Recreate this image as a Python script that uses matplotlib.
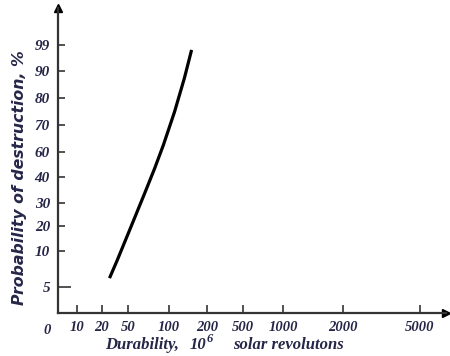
import numpy as np
import matplotlib
matplotlib.use("Agg")
import matplotlib.pyplot as plt
from matplotlib import transforms

# ---- data ----
durability = [28.8, 37.5, 53.3, 70.1, 82.4, 93.1, 114.6, 140, 159]   # 10^6 solar revolutions
probability = [6.2, 8.7, 19.7, 33.7, 47.0, 62.5, 75.0, 87.3, 97.3]   # %

x_ticks = [10, 20, 50, 100, 200, 500, 1000, 2000, 5000]
x_tick_labels = ["10", "20", "50", "100", "200", "500", "1000", "2000", "5000"]
y_ticks = [5, 10, 20, 30, 40, 60, 70, 80, 90, 99]
y_tick_labels = ["5", "10", "20", "30", "40", "60", "70", "80", "90", "99"]

# ---- layout of the (non-uniform) paper scales, in figure pixels ----
W, H = 450, 356
XV = [0, 4, 10, 20, 50, 100, 200, 500, 1000, 2000, 5000, 6000]
XPIX = [46.7, 58.3, 76.7, 101.7, 128.3, 169, 207.3, 243.3, 283.3, 343.3, 420, 446]
YV = [0, 5, 10, 20, 30, 40, 60, 70, 80, 90, 99, 100]
YPIX = [312.5, 286.7, 251, 226, 202.7, 177.3, 151.7, 125, 98.3, 71, 45, 8]
YNEG = [-p for p in YPIX]

def xf(v):
    return np.interp(v, XV, XPIX)
def xi(p):
    return np.interp(p, XPIX, XV)
def yf(v):
    return np.interp(v, YV, YNEG)
def yi(p):
    return np.interp(p, YNEG, YV)

fig = plt.figure(figsize=(W / 100, H / 100), dpi=100)
left, right, top, bottom = 58.3, 446, 8, 312.5
ax = fig.add_axes([left / W, 1 - bottom / H, (right - left) / W, (bottom - top) / H])
ax.set_xscale('function', functions=(xf, xi))
ax.set_yscale('function', functions=(yf, yi))
ax.set_xlim(4, 6000)
ax.set_ylim(0, 100)

axis_col = '#333333'
txt_col = '#262648'
for s in ['top', 'right']:
    ax.spines[s].set_visible(False)
for s in ['left', 'bottom']:
    ax.spines[s].set_color(axis_col)
    ax.spines[s].set_linewidth(1.6)

ax.plot(durability, probability, color='black', lw=2.3, solid_capstyle='butt',
        solid_joinstyle='round')

ax.set_xticks(x_ticks)
ax.set_xticklabels(x_tick_labels)
ax.set_yticks(y_ticks)
ax.set_yticklabels(y_tick_labels)
ax.minorticks_off()
ax.tick_params(axis='x', direction='in', length=6, width=1.2, color=axis_col, pad=6)
ax.tick_params(axis='y', direction='in', length=5, width=1.2, color=axis_col, pad=6)
ax.yaxis.get_major_ticks()[0].tick1line.set_markersize(9)
for lab in ax.get_xticklabels():
    lab.set_family('Liberation Serif')
    lab.set_weight('bold')
    lab.set_style('italic')
    lab.set_fontsize(10.5)
    lab.set_color(txt_col)
for lab in ax.get_yticklabels():
    lab.set_family('Liberation Serif')
    lab.set_weight('bold')
    lab.set_style('italic')
    lab.set_fontsize(11)
    lab.set_color(txt_col)

# zero label left of the vertical axis
trans = transforms.blended_transform_factory(ax.transData, ax.transAxes)
ax.text(0, -0.06, "0", transform=trans, ha='center', va='center', clip_on=False,
        family='Liberation Serif', weight='bold', style='italic', fontsize=10.5, color=txt_col)

# arrow heads
ax.plot([0], [1], marker='^', ms=6, color='black', transform=ax.transAxes, clip_on=False)
ax.plot([1], [0], marker='>', ms=6, color='black', transform=ax.transAxes, clip_on=False)

# axis titles
fig.text(20 / W, 1 - 178 / H, "Probability of destruction, %", rotation=90,
         ha='center', va='center', family='DejaVu Sans', weight='bold', style='italic',
         fontsize=11.3, color=txt_col)
serif = dict(family='Liberation Serif', weight='bold', style='italic', color=txt_col)
fig.text(105 / W, 1 - 345 / H, "Durability,", ha='left', va='center', fontsize=12, **serif)
fig.text(190 / W, 1 - 345 / H, "10", ha='left', va='center', fontsize=12, **serif)
fig.text(207 / W, 1 - 339 / H, "6", ha='left', va='center', fontsize=9, **serif)
fig.text(233 / W, 1 - 345 / H, "solar revolutons", ha='left', va='center', fontsize=12, **serif)

fig.savefig("out.png", dpi=100)
